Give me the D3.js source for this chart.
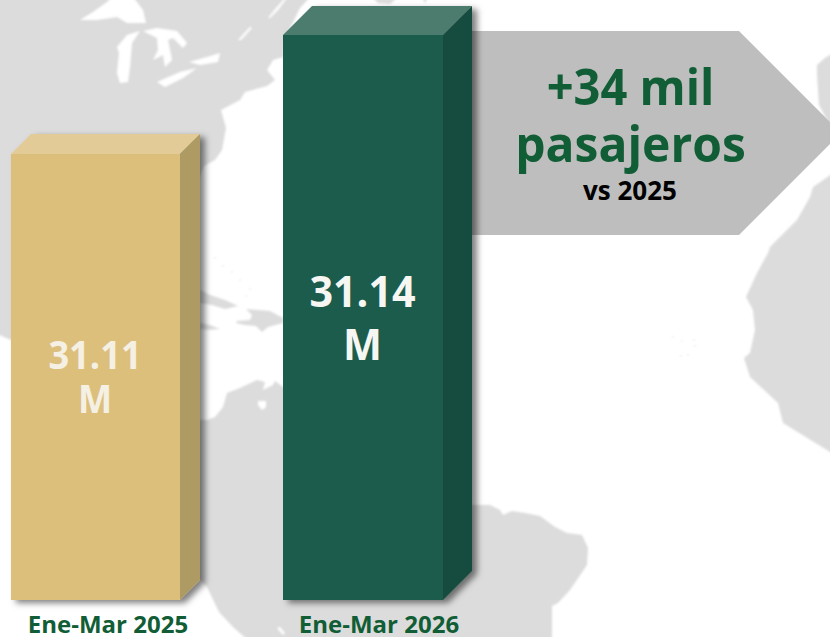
<!DOCTYPE html>
<html><head><meta charset="utf-8">
<script src="https://cdn.jsdelivr.net/npm/d3@7"></script>
<style>html,body{margin:0;padding:0;background:#fff}svg{display:block}text{font-family:"Open Sans",sans-serif;font-weight:700}</style>
</head><body><svg id="c" width="830" height="637"></svg>
<script>
const categories = ["Ene-Mar 2025","Ene-Mar 2026"];
const values = [31.11,31.14];
const unitLabel = "M";
const calloutLines = ["+34 mil","pasajeros"];
const calloutNote = "vs 2025";

const land = [
 [[-5,-5],[312,-5],[300,8],[284,40],[283,57],[273,60],[267,70],[275,80],[267,86],[245,92],[240,100],[221,110],[226,128],[222,150],[215,160],[204,166],[190,200],[100,300],[11,340],[-5,333]],
 [[190,420],[207,420],[215,417],[223,407],[227,393],[240,388],[257,380],[265,382],[263,390],[273,385],[275,381],[283,387],[400,480],[472,505],[490,505],[500,510],[503,515],[512,511],[525,513],[540,516],[555,527],[567,533],[582,535],[588,548],[587,565],[570,590],[558,603],[552,606],[552,642],[250,642],[233,627],[219,612],[207,587],[190,570]],
 [[835,172],[813,187],[810,197],[797,220],[770,247],[768,253],[757,273],[746,297],[753,310],[755,330],[750,353],[744,358],[750,377],[778,403],[783,423],[835,455]],
 [[835,52],[825,58],[817,65],[817,75],[819,105],[835,135]],
 [[200,290],[210,295],[225,300],[238,306],[225,309],[212,305],[200,303]],
 [[246,309],[258,310],[270,311],[283,318],[283,323],[268,327],[262,332],[256,326],[245,325],[236,323],[237,321],[250,320],[252,315]],
 [[200,323],[210,325],[220,329],[208,330],[200,329]],
 [[372,-3],[398,-3],[390,4],[378,3]],
 [[422,-3],[428,-3],[425,3]]
];
const water = [
 [[80,20],[93,12],[107,2],[112,-3],[133,-3],[143,10],[146,23],[127,23],[117,17],[97,20]],
 [[117,47],[127,35],[140,31],[132,43],[130,67],[128,82],[120,83],[117,73],[119,53]],
 [[143,31],[157,28],[177,31],[187,43],[183,48],[173,38],[168,40],[172,60],[165,67],[163,55],[153,60],[158,50],[157,38]],
 [[157,82],[180,72],[197,68],[183,78],[165,87]],
 [[189,62],[207,57],[220,53],[218,62],[200,65]],
 [[268,18],[276,8],[285,-2],[287,-2],[278,10],[270,18]],
 [[238,40],[250,27],[252,28],[241,40]],
 [[258,401],[266,401],[266,407],[262,410],[258,405]],
 [[277,628],[280,627],[285,633],[283,635]]
];
const islets = [[215,258],[223,266],[232,272],[240,280],[250,289],[246,296],[673,337],[682,341],[694,340],[695,346],[688,355],[681,356]];

const svg=d3.select("#c");
const defs=svg.append("defs");
const f=defs.append("filter").attr("id","sh").attr("x","-20%").attr("y","-20%").attr("width","140%").attr("height","140%");
f.append("feDropShadow").attr("dx",5).attr("dy",3).attr("stdDeviation",3).attr("flood-color","#000").attr("flood-opacity",0.5);
defs.append("filter").attr("id","soft").attr("x","-5%").attr("y","-5%").attr("width","110%").attr("height","110%")
  .attr("filterUnits","userSpaceOnUse").attr("x",0).attr("y",0).attr("width",830).attr("height",637)
  .append("feGaussianBlur").attr("stdDeviation",0.8);

const poly=d3.line();
const mapG=svg.append("g").attr("filter","url(#soft)");
mapG.selectAll("path.l").data(land).join("path").attr("class","l").attr("d",d=>poly(d)+"Z").attr("fill","#dcdcdc");
mapG.selectAll("path.w").data(water).join("path").attr("class","w").attr("d",d=>poly(d)+"Z").attr("fill","#fff");
mapG.selectAll("circle").data(islets).join("circle").attr("cx",d=>d[0]).attr("cy",d=>d[1]).attr("r",1).attr("fill","#eeeeee");

// callout arrow
svg.append("path").attr("d",poly([[472,31],[739,31],[841,133],[739,235],[472,235]])+"Z").attr("fill","#bebebe");
const cx=630.5;
svg.selectAll("text.call").data(calloutLines).join("text").attr("class","call")
  .attr("transform",(d,i)=>`translate(${cx},${[105,162][i]}) scale(${[0.94,0.96][i]},1)`).attr("text-anchor","middle")
  .attr("font-size",50).attr("fill","#115d36").text(d=>d);
svg.append("text").attr("x",cx-0.5).attr("y",200).attr("text-anchor","middle").attr("font-size",26).attr("fill","#000").text(calloutNote);

// scales: the value axis is truncated, as in the reference
const y=d3.scaleLinear().domain([30.9976,31.14]).range([600,35]);
const xStart=d3.scaleOrdinal().domain(categories).range([11,283]);
const bw=d3.scaleOrdinal().domain(categories).range([169,160]);
const dep=d3.scaleOrdinal().domain(categories).range([20,29]);
const front=d3.scaleOrdinal().domain(categories).range(["#ddbf7b","#1f5c4e"]);
const top_=d3.scaleOrdinal().domain(categories).range(["#e2cb96","#4b7b6e"]);
const side=d3.scaleOrdinal().domain(categories).range(["#ae9a63","#194b3f"]);
const txt=d3.scaleOrdinal().domain(categories).range(["#f5f0e4","#f6f6f2"]);
const fs=d3.scaleOrdinal().domain(categories).range([39,43]);
const sxNum=d3.scaleOrdinal().domain(categories).range([0.93,0.96]);
const numBase=d3.scaleOrdinal().domain(categories).range([369,307]);
const unitBase=d3.scaleOrdinal().domain(categories).range([413,360]);
const labelX=d3.scaleOrdinal().domain(categories).range([108,379]);

const rows=categories.map((c,i)=>({c,v:values[i]}));
const bars=svg.selectAll("g.bar").data(rows).join("g").attr("class","bar");
bars.each(function(d){
  const g=d3.select(this).append("g").attr("filter","url(#sh)");
  const x0=xStart(d.c),x1=x0+bw(d.c),t=y(d.v),b=y.range()[0],k=dep(d.c);
  g.append("path").attr("d",poly([[x0,t],[x1,t],[x1+k,t-k],[x0+k,t-k]])+"Z").attr("fill",top_(d.c));
  g.append("path").attr("d",poly([[x1,t],[x1+k,t-k],[x1+k,b-k],[x1,b]])+"Z").attr("fill",side(d.c));
  g.append("rect").attr("x",x0).attr("y",t).attr("width",bw(d.c)).attr("height",b-t).attr("fill",front(d.c));
  const s=d3.select(this), mid=x0+bw(d.c)/2;
  s.append("text").attr("transform",`translate(${mid-0.5},${numBase(d.c)}) scale(${sxNum(d.c)},1)`).attr("text-anchor","middle").attr("font-size",fs(d.c)).attr("fill",txt(d.c)).text(d.v.toFixed(2));
  s.append("text").attr("transform",`translate(${mid-0.5},${unitBase(d.c)}) scale(${sxNum(d.c)},1)`).attr("text-anchor","middle").attr("font-size",fs(d.c)).attr("fill",txt(d.c)).text(unitLabel);
  s.append("text").attr("x",labelX(d.c)).attr("y",633).attr("text-anchor","middle").attr("font-size",24).attr("fill","#115d36").text(d.c);
});
</script></body></html>
